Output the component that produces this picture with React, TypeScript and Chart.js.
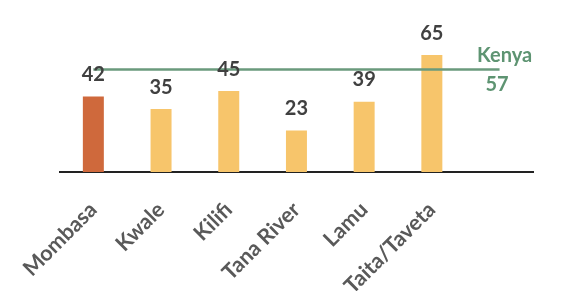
import React, { useEffect, useRef } from "react";
import { Chart, registerables } from "chart.js";

Chart.register(...registerables);

const categories = ["Mombasa", "Kwale", "Kilifi", "Tana River", "Lamu", "Taita/Taveta", ""];
const countyValues = [42, 35, 45, 23, 39, 65, null];
const kenyaValues = [57, 57, 57, 57, 57, 57, 57];
const kenyaLabel = "Kenya";
const kenyaValueLabel = "57";

const barColors = ["#cf693c", "#f7c56b", "#f7c56b", "#f7c56b", "#f7c56b", "#f7c56b", "#f7c56b"];
const FONT = "Lato, 'Open Sans', sans-serif";

const labelPlugin = {
  id: "labels",
  afterDatasetsDraw(chart: any) {
    const ctx = chart.ctx;
    ctx.save();
    const barMeta = chart.getDatasetMeta(1);
    ctx.font = `bold 20px ${FONT}`;
    ctx.fillStyle = "#404040";
    ctx.textAlign = "center";
    ctx.textBaseline = "alphabetic";
    barMeta.data.forEach((el: any, i: number) => {
      const v = countyValues[i];
      if (v == null) return;
      ctx.fillText(String(v), el.x, el.y - 15.5);
    });
    const lineMeta = chart.getDatasetMeta(0);
    const last = lineMeta.data[lineMeta.data.length - 1];
    if (last) {
      ctx.fillStyle = "#5e9472";
      ctx.fillText(kenyaLabel, last.x + 5, last.y - 7);
      ctx.fillText(kenyaValueLabel, last.x - 2.5, last.y + 21.5);
    }
    ctx.restore();
  },
};

export default function App() {
  const ref = useRef<HTMLCanvasElement>(null);
  useEffect(() => {
    if (!ref.current) return;
    const chart = new Chart(ref.current, {
      type: "bar",
      data: {
        labels: categories,
        datasets: [
          {
            type: "line",
            label: "Kenya",
            data: kenyaValues,
            borderColor: "#6a9a7c",
            borderWidth: 2.5,
            pointRadius: 0,
            fill: false,
            order: 0,
          } as any,
          {
            type: "bar",
            label: "County",
            data: countyValues,
            backgroundColor: barColors,
            barPercentage: 0.31,
            categoryPercentage: 1,
            order: 1,
          },
        ],
      },
      options: {
        responsive: false,
        animation: false,
        events: [],
        layout: { padding: { left: 59.5, right: 27.6, top: 28, bottom: 0 } },
        plugins: { legend: { display: false }, tooltip: { enabled: false } },
        scales: {
          x: {
            grid: { display: false, drawTicks: false },
            border: { display: true, color: "#222222", width: 2 },
            ticks: {
              autoSkip: false,
              minRotation: 45,
              maxRotation: 45,
              padding: 25,
              color: "#595959",
              font: { family: FONT, size: 21.5, weight: "bold" },
            },
            afterFit(scale: any) {
              scale.height = 119;
              scale.paddingLeft = 0;
              scale.paddingRight = 0;
              scale.paddingTop = 0;
              scale.paddingBottom = 0;
            },
          },
          y: {
            display: false,
            min: 0,
            max: 80,
          },
        },
      },
      plugins: [labelPlugin],
    });
    return () => chart.destroy();
  }, []);
  return (
    <div style={{ position: "fixed", left: 0, top: 0, width: 561, height: 291, background: "#ffffff" }}>
      <canvas ref={ref} width={561} height={291} style={{ display: "block" }} />
    </div>
  );
}
